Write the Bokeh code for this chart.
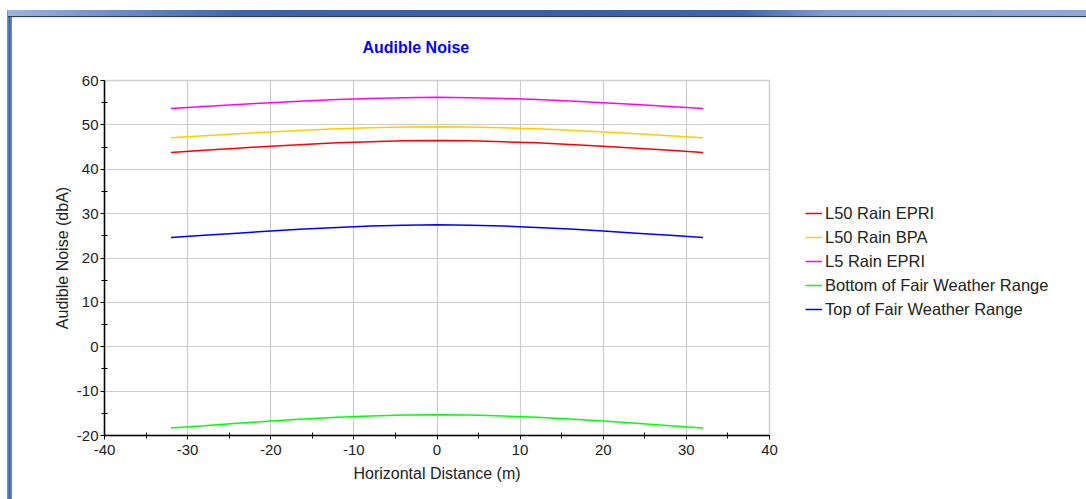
from bokeh.plotting import figure
from bokeh.layouts import row
from bokeh.models import Range1d, Legend, LegendItem, FixedTicker, ColumnDataSource
from bokeh.embed import file_html
from bokeh.resources import INLINE

# Horizontal distance from the line centre (m)
distance = [-32, -28, -24, -20, -16, -12, -8, -4, 0, 4, 8, 12, 16, 20, 24, 28, 32]

# Audible noise levels (dBA)
l50_rain_epri = [43.8, 44.3, 44.75, 45.2, 45.6, 45.95, 46.2, 46.4, 46.5,
                 46.4, 46.2, 45.95, 45.6, 45.2, 44.75, 44.3, 43.8]
l50_rain_bpa = [47.1, 47.55, 48.0, 48.4, 48.8, 49.1, 49.35, 49.5, 49.6,
                49.5, 49.35, 49.1, 48.8, 48.4, 48.0, 47.55, 47.1]
l5_rain_epri = [53.7, 54.15, 54.6, 55.0, 55.4, 55.7, 55.95, 56.1, 56.2,
                56.1, 55.95, 55.7, 55.4, 55.0, 54.6, 54.15, 53.7]
fair_bottom = [-18.3, -17.8, -17.25, -16.75, -16.3, -15.9, -15.6, -15.4, -15.3,
               -15.4, -15.6, -15.9, -16.3, -16.75, -17.25, -17.8, -18.3]
fair_top = [24.6, 25.1, 25.6, 26.1, 26.55, 26.9, 27.2, 27.4, 27.5,
            27.4, 27.2, 26.9, 26.55, 26.1, 25.6, 25.1, 24.6]

series_names = ["L50 Rain EPRI", "L50 Rain BPA", "L5 Rain EPRI",
                "Bottom of Fair Weather Range", "Top of Fair Weather Range"]
series_values = [l50_rain_epri, l50_rain_bpa, l5_rain_epri, fair_bottom, fair_top]
series_colors = ["#ff0000", "#ffcc00", "#ff00ff", "#00ff00", "#0000ff"]

x_ticks = [-40, -30, -20, -10, 0, 10, 20, 30, 40]
y_ticks = [-20, -10, 0, 10, 20, 30, 40, 50, 60]

FONT = "Liberation Sans"
TEXT_COLOR = "#222222"

chart = figure(width=790, height=499, output_backend="svg", toolbar_location=None,
               x_range=Range1d(-40, 40), y_range=Range1d(-20, 60),
               min_border_left=104, min_border_right=21,
               min_border_top=80, min_border_bottom=64,
               title="Audible Noise")

chart.background_fill_color = "white"
chart.border_fill_alpha = 0
chart.outline_line_color = "#cfcfcf"
chart.outline_line_width = 1.5

chart.title.text_font = FONT
chart.title.text_font_size = "16px"
chart.title.text_font_style = "bold"
chart.title.text_color = "#0000ff"
chart.title.align = "left"
chart.title.offset = 258
chart.title.standoff = 50

for ax, ticks in ((chart.xaxis, x_ticks), (chart.yaxis, y_ticks)):
    ax.ticker = FixedTicker(ticks=ticks, minor_ticks=[t + 5 for t in ticks[:-1]])
    ax.major_label_overrides = {t: str(t) for t in ticks}
    ax.axis_line_color = "black"
    ax.axis_line_width = 1.5
    ax.major_tick_line_color = "black"
    ax.minor_tick_line_color = "black"
    ax.major_tick_in = 0
    ax.major_tick_out = 4
    ax.minor_tick_in = 3
    ax.minor_tick_out = 3
    ax.major_label_text_font = FONT
    ax.major_label_text_font_size = "15px"
    ax.major_label_text_color = TEXT_COLOR
    ax.axis_label_text_font = FONT
    ax.axis_label_text_font_size = "16px"
    ax.axis_label_text_font_style = "normal"
    ax.axis_label_text_color = TEXT_COLOR

chart.xaxis.axis_label = "Horizontal Distance (m)"
chart.yaxis.axis_label = "Audible Noise (dbA)"
chart.xaxis.major_label_standoff = 5
chart.yaxis.major_label_standoff = 2
chart.xaxis.axis_label_standoff = 7
chart.yaxis.axis_label_standoff = 3

chart.xgrid.grid_line_color = "#cccccc"
chart.ygrid.grid_line_color = "#cccccc"
chart.xgrid.grid_line_width = 1.2
chart.ygrid.grid_line_width = 1.2

for name, vals, color in zip(series_names, series_values, series_colors):
    src = ColumnDataSource(dict(x=distance, y=vals))
    chart.line("x", "y", source=src, line_color=color, line_width=1.5)

# legend panel to the right of the chart (its keys sit outside its own ranges)
key = figure(width=296, height=499, output_backend="svg", toolbar_location=None,
             x_range=Range1d(0, 1), y_range=Range1d(0, 1),
             min_border=0, outline_line_color=None)
key.axis.visible = False
key.grid.visible = False
key.background_fill_alpha = 0
key.border_fill_alpha = 0

items = []
for name, color in zip(series_names, series_colors):
    r = key.line(x=[2, 3], y=[2, 3], line_color=color, line_width=1.5)
    items.append(LegendItem(label=name, renderers=[r]))

legend = Legend(items=items, location=(15, 116), orientation="vertical",
                glyph_width=17, glyph_height=20, label_height=20, spacing=4,
                label_standoff=3, padding=0, margin=0,
                border_line_alpha=0, background_fill_alpha=0,
                label_text_font=FONT, label_text_font_size="16.5px",
                label_text_color=TEXT_COLOR)
key.add_layout(legend, "center")

p = row(chart, key, spacing=0)

# window chrome behind the canvases: title bar and left edge
p.styles = {
    "background": (
        "linear-gradient(to right, #9db5dc 0%, #6b8cc6 10%, #3f64aa 22%, "
        "#3a5fa8 50%, #3e65ad 68%, #7f9dd0 76%, #8ea8d6 100%) 8px 10px / 1078px 6px no-repeat, "
        "linear-gradient(#2c3e60, #2c3e60) 8px 16px / 1078px 1px no-repeat, "
        "linear-gradient(#d7dfec, #d7dfec) 12px 17px / 1074px 1px no-repeat, "
        "linear-gradient(to right, #7f9fd0, #3d63aa, #6f8fc8) 7px 10px / 5px 489px no-repeat, "
        "white"
    ),
}

open("out.html", "w").write(file_html(p, INLINE))
